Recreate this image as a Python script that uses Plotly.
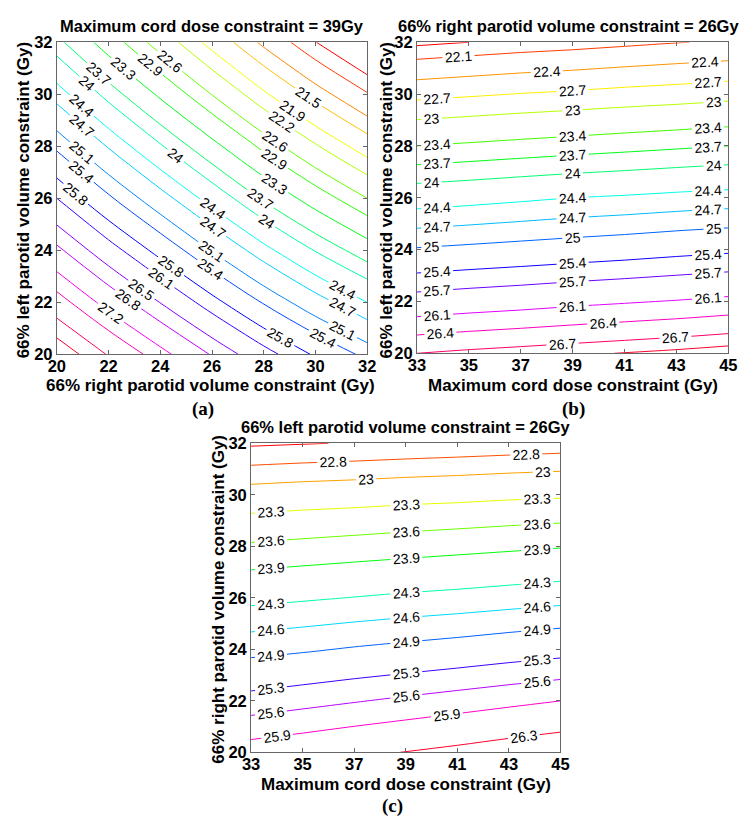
import colorsys
import plotly.graph_objects as go

# ---------------- Panel (a): Maximum cord dose constraint = 39Gy ----------------
a_x = [20, 22, 24, 26, 28, 30, 32]          # 66% right parotid volume constraint (Gy)
a_y = [20, 22, 24, 26, 28, 30, 32]          # 66% left parotid volume constraint (Gy)
a_z = [
    [28.45, 27.87, 27.32, 26.77, 26.24, 25.75, 25.30],
    [27.66, 27.06, 26.49, 25.92, 25.37, 24.86, 24.40],
    [26.88, 26.26, 25.67, 25.08, 24.51, 23.98, 23.50],
    [26.10, 25.46, 24.85, 24.25, 23.65, 23.11, 22.60],
    [25.33, 24.67, 24.04, 23.42, 22.81, 22.24, 21.71],
    [24.56, 23.88, 23.23, 22.59, 21.96, 21.37, 20.83],
    [23.80, 23.10, 22.43, 21.77, 21.12, 20.51, 19.95],
]
a_levels = [20.5, 20.8, 21.2, 21.5, 21.9, 22.2, 22.6, 22.9, 23.3, 23.7, 24, 24.4,
            24.7, 25.1, 25.4, 25.8, 26.1, 26.5, 26.8, 27.2, 27.5, 27.9, 28.2]

# ---------------- Panel (b): 66% right parotid volume constraint = 26Gy ----------------
b_x = [33, 35, 37, 39, 41, 43, 45]          # Maximum cord dose constraint (Gy)
b_y = [20, 22, 24, 26, 28, 30, 32]          # 66% left parotid volume constraint (Gy)
b_z = [
    [26.70, 26.76, 26.81, 26.86, 26.91, 26.96, 27.02],
    [25.85, 25.91, 25.96, 26.02, 26.07, 26.12, 26.18],
    [25.03, 25.08, 25.13, 25.18, 25.23, 25.29, 25.34],
    [24.23, 24.28, 24.34, 24.40, 24.44, 24.49, 24.53],
    [23.40, 23.45, 23.50, 23.55, 23.60, 23.65, 23.70],
    [22.61, 22.66, 22.71, 22.75, 22.80, 22.84, 22.89],
    [21.85, 21.90, 21.95, 21.99, 22.04, 22.09, 22.13],
]
b_levels = [21.9, 22.1, 22.4, 22.7, 23, 23.4, 23.7, 24, 24.4, 24.7, 25, 25.4,
            25.7, 26.1, 26.4, 26.7, 26.9]

# ---------------- Panel (c): 66% left parotid volume constraint = 26Gy ----------------
c_x = [33, 35, 37, 39, 41, 43, 45]          # Maximum cord dose constraint (Gy)
c_y = [20, 22, 24, 26, 28, 30, 32]          # 66% right parotid volume constraint (Gy)
c_z = [
    [26.06, 26.14, 26.23, 26.31, 26.39, 26.48, 26.56],
    [25.42, 25.50, 25.58, 25.66, 25.74, 25.82, 25.90],
    [24.80, 24.86, 24.93, 24.99, 25.05, 25.12, 25.18],
    [24.21, 24.26, 24.31, 24.36, 24.40, 24.45, 24.50],
    [23.64, 23.68, 23.72, 23.76, 23.80, 23.84, 23.88],
    [23.11, 23.14, 23.16, 23.19, 23.21, 23.24, 23.26],
    [22.57, 22.59, 22.61, 22.63, 22.65, 22.67, 22.69],
]
c_levels = [22.6, 22.8, 23, 23.3, 23.6, 23.9, 24.3, 24.6, 24.9, 25.3, 25.6, 25.9, 26.3]

x_ticks_a = [20, 22, 24, 26, 28, 30, 32]
x_ticks_bc = [33, 35, 37, 39, 41, 43, 45]
y_ticks = [20, 22, 24, 26, 28, 30, 32]

FONT = "Liberation Sans, Arial, sans-serif"
SERIF = "Liberation Serif, Times New Roman, serif"

# Plotly spaces contour labels according to how many levels a trace holds;
# extra (empty, out-of-range) levels make it place several labels per line.
LABEL_SLOTS = 72
EMPTY_STEP = 1000.0


def hsv_color(level, levels):
    lo, hi = levels[0], levels[-1]
    t = (level - lo) / (hi - lo)
    r, g, b = colorsys.hsv_to_rgb(0.97 * t, 1.0, 1.0)
    return f"rgb({int(r*255)},{int(g*255)},{int(b*255)})"


fig = go.Figure()


def add_panel(x, y, z, levels, xa, ya):
    for L in levels:
        fig.add_trace(go.Contour(
            x=x, y=y, z=z,
            autocontour=False,
            contours=dict(start=L, end=L + EMPTY_STEP * (LABEL_SLOTS - 1),
                          size=EMPTY_STEP, coloring="none",
                          showlabels=True, labelformat=".3~g",
                          labelfont=dict(size=14, color="black", family=FONT)),
            line=dict(color=hsv_color(L, levels), width=1),
            showscale=False, hoverinfo="skip",
            xaxis=xa, yaxis=ya,
        ))


add_panel(a_x, a_y, a_z, a_levels, "x", "y")
add_panel(b_x, b_y, b_z, b_levels, "x2", "y2")
add_panel(c_x, c_y, c_z, c_levels, "x3", "y3")

W, H = 750, 826


def px_x(p):
    return p / W


def px_y(p):
    return 1 - p / H


axis_common = dict(showline=True, linecolor="#666666", linewidth=1, mirror="ticks",
                   ticks="inside", ticklen=4, tickcolor="#666666",
                   showgrid=False, zeroline=False,
                   tickfont=dict(size=16.5, family=FONT, color="black", weight="bold"))
x_extra = dict(ticklabelstandoff=-3)

fig.update_layout(
    width=W, height=H, margin=dict(l=0, r=0, t=0, b=0),
    paper_bgcolor="white", plot_bgcolor="white", showlegend=False,
    xaxis=dict(domain=[px_x(49), px_x(367)], range=[20, 32], tickvals=x_ticks_a,
               anchor="y", **axis_common, **x_extra),
    yaxis=dict(domain=[px_y(353), px_y(34)], range=[20, 32], tickvals=y_ticks,
               anchor="x", **axis_common),
    xaxis2=dict(domain=[px_x(418), px_x(737)], range=[33, 45], tickvals=x_ticks_bc,
                anchor="y2", **axis_common, **x_extra),
    yaxis2=dict(domain=[px_y(352), px_y(34)], range=[20, 32], tickvals=y_ticks,
                anchor="x2", **axis_common),
    xaxis3=dict(domain=[px_x(248), px_x(565)], range=[33, 45], tickvals=x_ticks_bc,
                anchor="y3", **axis_common, **x_extra),
    yaxis3=dict(domain=[px_y(760), px_y(444)], range=[20, 32], tickvals=y_ticks,
                anchor="x3", **axis_common),
)

title_font = dict(size=16.5, family=FONT, color="black", weight="bold")
axis_font = dict(size=17, family=FONT, color="black", weight="bold")
ann = []


def text(xp, yp, s, font, angle=0):
    ann.append(dict(x=px_x(xp), y=px_y(yp), xref="paper", yref="paper", text=s,
                    showarrow=False, font=font, textangle=angle,
                    xanchor="center", yanchor="middle"))


# titles
text(208, 17, "Maximum cord dose constraint = 39Gy", title_font)
text(573, 17, "66% right parotid volume constraint = 26Gy", title_font)
text(407, 427, "66% left parotid volume constraint = 26Gy", title_font)
# x-axis titles
text(206, 385, "66% right parotid volume constraint (Gy)", axis_font)
text(578, 385, "Maximum cord dose constraint (Gy)", axis_font)
text(407, 793, "Maximum cord dose constraint (Gy)", axis_font)
# y-axis titles
text(15, 196, "66% left parotid volume constraint (Gy)", axis_font, -90)
text(387, 196, "66% left parotid volume constraint (Gy)", axis_font, -90)
text(215, 603, "66% right parotid volume constraint (Gy)", axis_font, -90)
# sub-labels
sub = dict(size=19, family=SERIF, color="black", weight="bold")
text(199, 409, "(a)", sub)
text(578, 409, "(b)", sub)
text(393, 815, "(c)", sub)

fig.update_layout(annotations=ann)
# the page's default 8px body margin would push the figure off the 750x826 window
fig.write_html("out.html", config={"displayModeBar": False},
               post_script="document.body.style.margin='0px';")
